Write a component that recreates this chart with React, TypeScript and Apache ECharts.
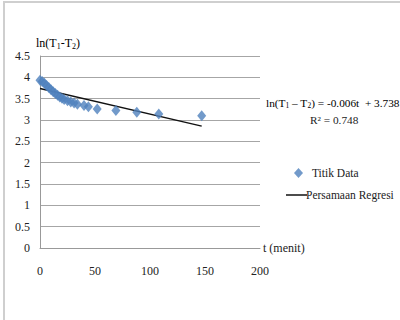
import React, { useEffect, useRef } from "react";
import * as echarts from "echarts";

const timeMinutes = [0, 2, 4, 6, 8, 10, 12, 14, 16, 18, 20, 22, 25, 28, 31, 34, 40, 44, 52, 69, 88, 108, 147];
const lnDiff = [3.93, 3.9, 3.86, 3.81, 3.76, 3.71, 3.66, 3.62, 3.58, 3.54, 3.51, 3.48, 3.45, 3.42, 3.4, 3.37, 3.34, 3.31, 3.26, 3.22, 3.18, 3.14, 3.1];
const slope = -0.006;
const intercept = 3.738;
const rSquared = 0.748;
const fitRange = [0, 147];
const xTicks = [0, 50, 100, 150, 200];
const yTicks = [0, 0.5, 1, 1.5, 2, 2.5, 3, 3.5, 4, 4.5];

const FONT = "Liberation Serif";

export default function App() {
  const ref = useRef<HTMLDivElement>(null);
  useEffect(() => {
    if (!ref.current) return;
    const chart = echarts.init(ref.current, null, { renderer: "svg" });
    const scatterData = timeMinutes.map((t, i) => [t, lnDiff[i]]);
    const fitData = fitRange.map((t) => [t, intercept + slope * t]);
    const titleRich = {
      a: { fontFamily: FONT, fontSize: 12, color: "#222" },
      s: { fontFamily: FONT, fontSize: 8, color: "#222", padding: [6, 0, 0, 0] },
    };
    const eqRich = {
      a: { fontFamily: FONT, fontSize: 11.3, color: "#222" },
      s: { fontFamily: FONT, fontSize: 7.5, color: "#222", padding: [6, 0, 0, 0] },
    };
    chart.setOption({
      animation: false,
      backgroundColor: "#fff",
      textStyle: { fontFamily: FONT },
      grid: { left: 40, right: 140, top: 56, bottom: 72, containLabel: false },
      xAxis: {
        type: "value",
        min: xTicks[0],
        max: xTicks[xTicks.length - 1],
        interval: 50,
        name: "t (menit)",
        nameLocation: "end",
        nameGap: 3,
        nameTextStyle: { fontFamily: FONT, fontSize: 12, color: "#222" },
        axisLine: { show: true, lineStyle: { color: "#999", width: 1 } },
        axisTick: { show: false },
        axisLabel: { fontFamily: FONT, fontSize: 12, color: "#222", margin: 17 },
        splitLine: { show: false },
      },
      yAxis: {
        type: "value",
        min: yTicks[0],
        max: yTicks[yTicks.length - 1],
        interval: 0.5,
        axisLine: { show: true, lineStyle: { color: "#999", width: 1 } },
        axisTick: { show: false },
        axisLabel: { fontFamily: FONT, fontSize: 12, color: "#222", margin: 10 },
        splitLine: { show: true, lineStyle: { color: "#a6a6a6", width: 1 } },
      },
      legend: [
        {
          data: [{ name: "Titik Data", icon: "diamond" }],
          left: 289,
          top: 162,
          itemWidth: 9,
          itemHeight: 10,
          itemGap: 5,
          textStyle: { fontFamily: FONT, fontSize: 11.5, color: "#222", padding: [0, 0, 0, 4] },
        },
        {
          data: [{ name: "Persamaan Regresi", icon: "rect" }],
          left: 281,
          top: 184,
          itemWidth: 21,
          itemHeight: 1.5,
          textStyle: { fontFamily: FONT, fontSize: 11.5, color: "#222", padding: [0, 0, 0, -6] },
        },
      ],
      graphic: [
        {
          type: "rect",
          shape: { x: 4, y: 2, width: 420, height: 340 },
          style: { fill: "none", stroke: "#cfcfcf", lineWidth: 2 },
          silent: true,
        },
        {
          type: "text",
          left: 36,
          top: 37,
          style: {
            text: "{a|ln(T}{s|1}{a|-T}{s|2}{a|)}",
            rich: titleRich,
          },
        },
        {
          type: "text",
          left: 266,
          top: 97,
          style: {
            text: "{a|ln(T}{s|1}{a| – T}{s|2}{a|) = -0.006t  + 3.738}",
            rich: eqRich,
          },
        },
        {
          type: "text",
          left: 310,
          top: 114,
          style: {
            text: "R² = " + rSquared.toFixed(3),
            fontFamily: FONT,
            fontSize: 11.3,
            fill: "#222",
          },
        },
      ],
      series: [
        {
          name: "Titik Data",
          type: "scatter",
          data: scatterData,
          symbol: "diamond",
          symbolSize: [9, 11],
          itemStyle: { color: "#4f81bd" },
          z: 3,
        },
        {
          name: "Persamaan Regresi",
          type: "line",
          data: fitData,
          showSymbol: false,
          symbol: "none",
          lineStyle: { color: "#111", width: 1.5 },
          itemStyle: { color: "#111" },
          z: 2,
        },
      ],
    });
    return () => chart.dispose();
  }, []);
  return (
    <div
      ref={ref}
      style={{ position: "fixed", left: 0, top: 0, width: 400, height: 320 }}
    />
  );
}
